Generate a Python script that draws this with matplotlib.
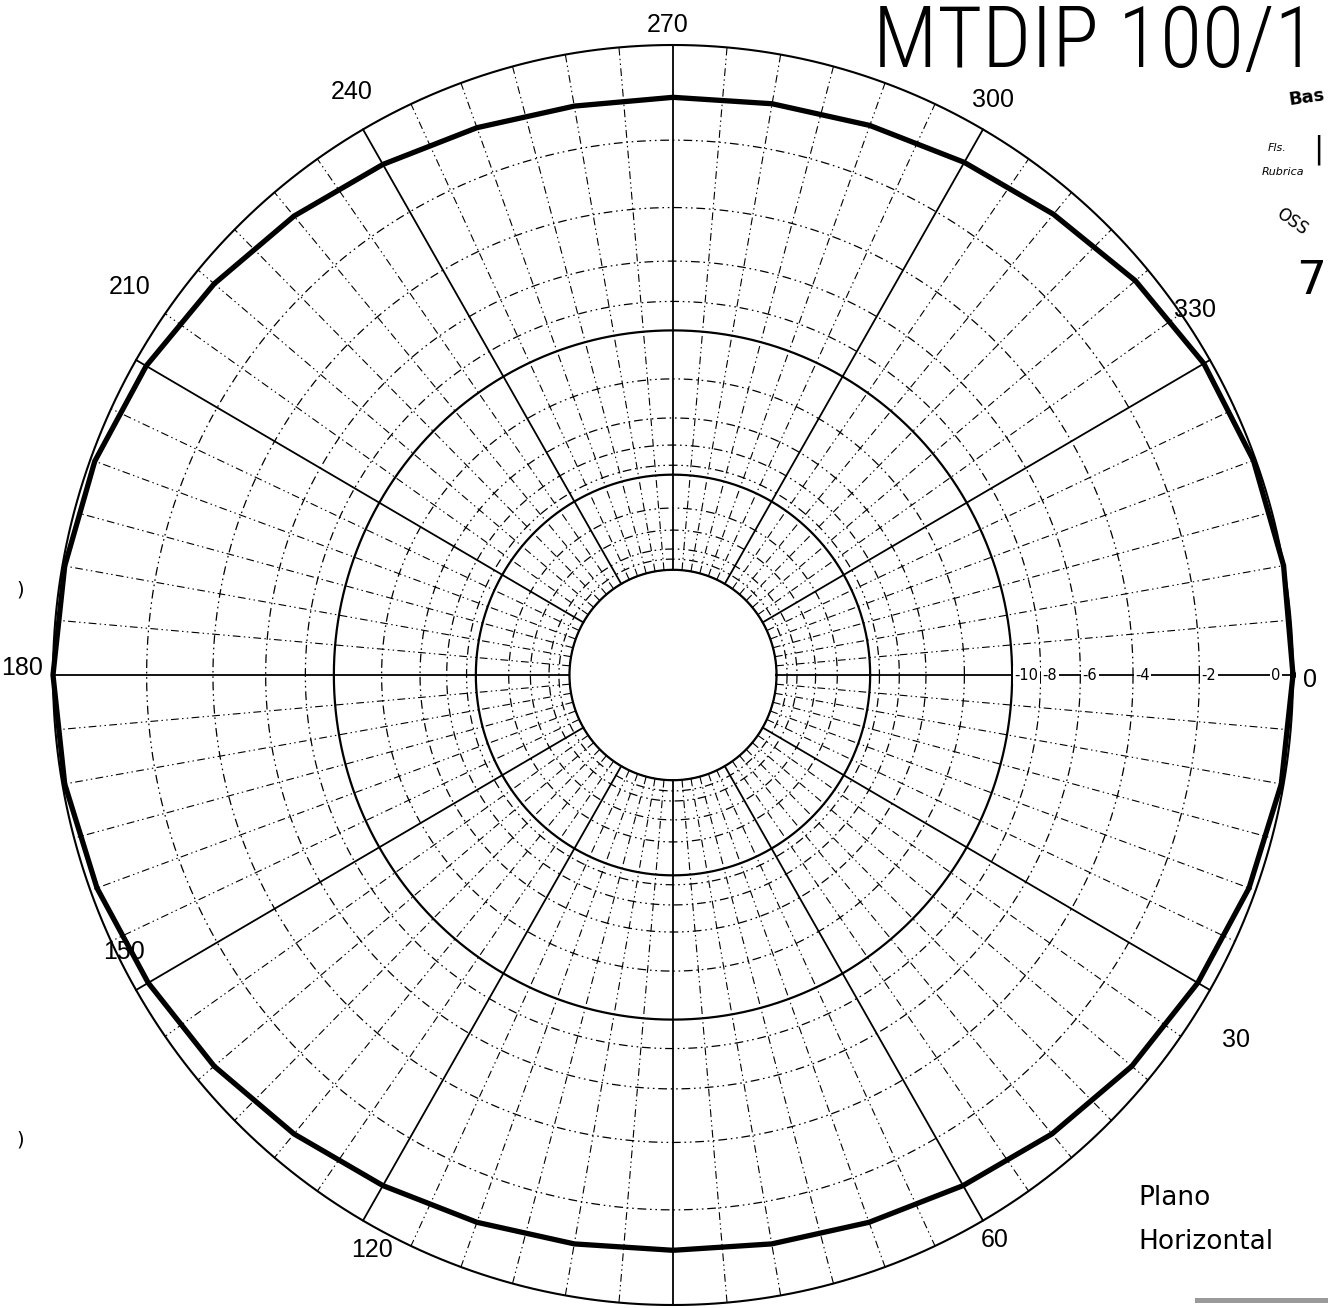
import numpy as np
import matplotlib
matplotlib.use("Agg")
import matplotlib.pyplot as plt
from matplotlib.patches import Rectangle
from matplotlib import font_manager as fm

# ---------------- data ----------------
# printed radial scale of the chart: level in dB -> fraction of chart radius
scale_db = [-100, -30, -28, -26, -24, -22, -20, -18, -16, -14, -12, -10, -8, -6, -4, -2, 0]
scale_r = [0.0, 0.167, 0.184, 0.200, 0.230, 0.265, 0.318, 0.333, 0.365, 0.408,
           0.470, 0.547, 0.593, 0.657, 0.742, 0.849, 1.0]

# horizontal-plane pattern (degrees, dB)
pattern_angle = [0, 10, 20, 30, 40, 50, 60, 70, 80, 90, 100, 110, 120, 130, 140, 150, 160, 170,
                 180, 190, 200, 210, 220, 230, 240, 250, 260, 270, 280, 290, 300, 310, 320, 330, 340, 350]
pattern_db = [0.0, -0.05, -0.15, -0.3, -0.45, -0.65, -0.85, -1.0, -1.1, -1.15, -1.1, -1.0, -0.85,
              -0.65, -0.45, -0.3, -0.15, -0.05, 0.0, -0.05, -0.1, -0.25, -0.45, -0.65, -0.85,
              -1.0, -1.1, -1.1, -1.05, -0.95, -0.8, -0.6, -0.35, -0.15, -0.05, 0.0]

angle_label_text = ["0", "30", "60", "120", "150", "180", "210", "240", "270", "300", "330"]
db_label_values = [0, -2, -4, -6, -8, -10]
db_label_text = ["0", "-2", "-4", "-6", "-8", "-10"]
dashed_rings_db = [-2, -4, -6, -8, -12, -14, -16, -18, -22, -24, -26, -28]
solid_rings_db = [-10, -20, -30]

title_text = "MTDIP 100/1"
plane_text = ["Plano", "Horizontal"]

# ---------------- fonts ----------------
narrow = None
stretch = "normal"
for f in fm.fontManager.ttflist:
    n = f.name
    if n in ("Liberation Sans Narrow", "Arial Narrow", "Roboto Condensed", "DejaVu Sans Condensed",
             "Open Sans Condensed", "Noto Sans Condensed"):
        narrow = n
        break
if narrow is None:
    for f in fm.fontManager.ttflist:
        if f.name in ("Noto Sans", "DejaVu Sans", "Roboto", "Open Sans") and \
                str(f.stretch) in ("condensed", "semi-condensed", "extra-condensed", "500", "600"):
            if str(f.weight) in ("400", "normal", "regular") or f.weight == 400:
                narrow = f.name
                stretch = f.stretch
                break

# ---------------- figure ----------------
W, H = 1328, 1308
fig = plt.figure(figsize=(W / 100, H / 100), dpi=100)
fig.patch.set_facecolor("white")

L, R, T, B = 53, 1293, 45, 1305
ax = fig.add_axes([L / W, 1 - B / H, (R - L) / W, (B - T) / H], projection="polar")
ax.set_aspect("auto")

def fwd(x):
    return np.interp(x, scale_db, scale_r)

def inv(y):
    return np.interp(y, scale_r, scale_db)

ax.set_rscale("function", functions=(fwd, inv))
ax.set_theta_zero_location("E")
ax.set_theta_direction(-1)
ax.set_rorigin(-100)
ax.set_rlim(-30, 0)
ax.grid(False)
ax.set_xticks([])
ax.set_yticks([])
for sp in ax.spines.values():
    sp.set_visible(False)
ax.patch.set_visible(False)

full = np.linspace(0, 2 * np.pi, 1441)
dash = (0, (7, 3, 1.3, 3, 1.3, 3))

# rings
for d in dashed_rings_db:
    ax.plot(full, np.full_like(full, d), color="black", lw=0.9, ls=dash, clip_on=False)
for d in solid_rings_db:
    ax.plot(full, np.full_like(full, d), color="black", lw=1.6, clip_on=False)
ax.plot(full, np.zeros_like(full), color="black", lw=1.5, clip_on=False)

# radial lines
for a in range(0, 360, 5):
    th = np.deg2rad(a)
    if a % 30 == 0:
        ax.plot([th, th], [-30, 0], color="black", lw=1.3, clip_on=False)
    else:
        ax.plot([th, th], [-30, 0], color="black", lw=0.8, ls=dash, clip_on=False)

# pattern
pa = np.deg2rad(pattern_angle + [pattern_angle[0] + 360])
pr = np.array(pattern_db + [pattern_db[0]])
ax.plot(pa, pr, color="black", lw=3.8, solid_joinstyle="round", clip_on=False, zorder=5)

# dB labels along 0 deg axis
for v, s in zip(db_label_values, db_label_text):
    if v == 0:
        ax.annotate(s, xy=(0, v), xytext=(-9, 0), textcoords="offset points",
                    ha="right", va="center", fontsize=10.5, family="DejaVu Sans",
                    bbox=dict(boxstyle="square,pad=0.1", fc="white", ec="none"), zorder=6,
                    annotation_clip=False)
    else:
        ax.annotate(s, xy=(0, v), xytext=(1.5, 0), textcoords="offset points",
                    ha="left", va="center", fontsize=10.5, family="DejaVu Sans",
                    bbox=dict(boxstyle="square,pad=0.1", fc="white", ec="none"), zorder=6,
                    annotation_clip=False)

# angle labels (pixel positions of the printed labels)
label_pos = {"0": (1310, 680), "30": (1236, 1040), "60": (995, 1240), "120": (372, 1250),
             "150": (124, 952), "180": (22, 668), "210": (130, 287), "240": (352, 92),
             "270": (668, 25), "300": (993, 100), "330": (1195, 310)}
for s in angle_label_text:
    x, y = label_pos[s]
    fig.text(x / W, 1 - y / H, s, ha="center", va="center", fontsize=18,
             family=["Liberation Sans", "DejaVu Sans"])

# title
if narrow is not None:
    fig.text(1095 / W, 1 - 44 / H, title_text, ha="center", va="center", fontsize=62,
             family=[narrow, "DejaVu Sans"], fontstretch=stretch, fontweight="light")
else:
    fig.text(1095 / W, 1 - 44 / H, title_text, ha="center", va="center", fontsize=51,
             family=["Liberation Sans", "DejaVu Sans"])

# plane annotation
fig.text(1138 / W, 1 - 1198 / H, plane_text[0], ha="left", va="center", fontsize=19,
         family=["DejaVu Sans"])
fig.text(1138 / W, 1 - 1242 / H, plane_text[1], ha="left", va="center", fontsize=19,
         family=["DejaVu Sans"])

# stamp remnants at right edge
fig.text(1326 / W, 1 - 98 / H, "Bas", ha="right", va="center", fontsize=13, fontweight="bold",
         family="DejaVu Sans", rotation=8)
fig.text(1268 / W, 1 - 148 / H, "Fls.", ha="left", va="center", fontsize=8, style="italic",
         family="DejaVu Sans")
fig.text(1262 / W, 1 - 172 / H, "Rubrica", ha="left", va="center", fontsize=8, style="italic",
         family="DejaVu Sans")
fig.text(1318 / W, 1 - 150 / H, "|", ha="center", va="center", fontsize=22, family="DejaVu Sans")
fig.text(1292 / W, 1 - 222 / H, "OSS", ha="center", va="center", fontsize=12, family="DejaVu Sans",
         rotation=-35)
fig.text(1326 / W, 1 - 282 / H, "7", ha="right", va="center", fontsize=34, family="DejaVu Sans")
fig.text(20 / W, 1 - 590 / H, ")", ha="center", va="center", fontsize=14, family="DejaVu Sans")
fig.text(20 / W, 1 - 1140 / H, ")", ha="center", va="center", fontsize=14, family="DejaVu Sans")

fig.add_artist(Rectangle((1195 / W, 1 - 1303 / H), 133 / W, 5 / H, transform=fig.transFigure,
                         facecolor="#9a9a9a", edgecolor="none"))

fig.savefig("out.png", dpi=100, facecolor="white")
